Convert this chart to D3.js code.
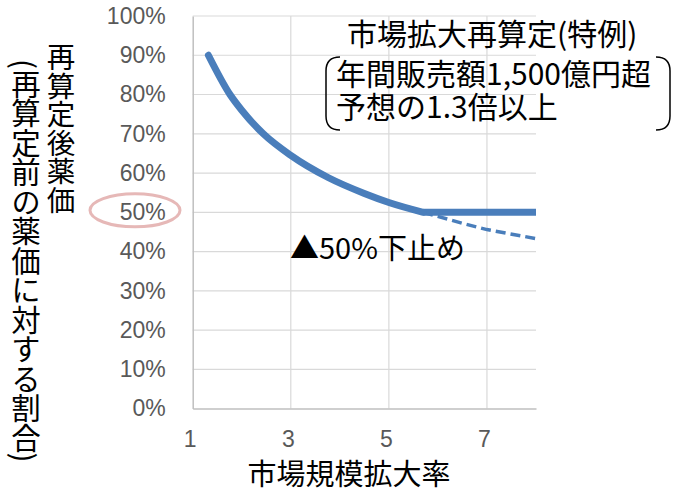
<!DOCTYPE html>
<html lang="ja">
<head>
<meta charset="utf-8">
<script src="https://cdn.jsdelivr.net/npm/d3@7"></script>
<style>
  html, body { margin: 0; padding: 0; background: #fff; }
  svg { display: block; font-family: "Noto Sans CJK JP", "Noto Sans", sans-serif; }
</style>
</head>
<body>
<svg id="chart" width="678" height="489"></svg>
<script>
// Repricing curve: price after repricing / price before, vs market expansion ratio
const curveX = [1.32, 1.76, 2.0, 2.44, 3.0, 3.77, 4.5, 5.0, 5.7];
const curveY = [0.90, 0.80, 0.76, 0.70, 0.645, 0.588, 0.548, 0.525, 0.50];

// 50% floor once the curve reaches it
const floorX = [5.7, 8];
const floorY = [0.50, 0.50];

// Where the curve would continue without the floor
const projX = [5.7, 6.5, 7, 8];
const projY = [0.50, 0.472, 0.456, 0.433];

const xTicks = [1, 3, 5, 7];
const yTicks = [0, 0.1, 0.2, 0.3, 0.4, 0.5, 0.6, 0.7, 0.8, 0.9, 1.0];

const titleLines = ["市場拡大再算定(特例)", "年間販売額1,500億円超", "予想の1.3倍以上"];
const floorNote = "▲50%下止め";
const xTitle = "市場規模拡大率";
const yTitleA = "再算定後薬価";
const yTitleB = "(再算定前の薬価に対する割合)";

const svg = d3.select("#chart");
const x = d3.scaleLinear().domain([1, 8]).range([192.7, 536]);
const y = d3.scaleLinear().domain([0, 1]).range([408.6, 16]);

const blue = "#4a7ebb";

// gridlines
svg.append("g").selectAll("line").data(yTicks.filter(d => d > 0)).join("line")
  .attr("x1", x(1)).attr("x2", x(8))
  .attr("y1", d => y(d)).attr("y2", d => y(d))
  .attr("stroke", "#d9d9d9").attr("stroke-width", 1.2);
svg.append("g").selectAll("line").data(xTicks.filter(d => d > 1)).join("line")
  .attr("x1", d => x(d)).attr("x2", d => x(d))
  .attr("y1", y(0)).attr("y2", y(1))
  .attr("stroke", "#d9d9d9").attr("stroke-width", 1.2);

// axes
const yAxis = d3.axisLeft(y).tickValues(yTicks).tickFormat(d3.format(".0%")).tickSize(0).tickPadding(27);
const gy = svg.append("g").attr("transform", `translate(${x(1)},0)`).call(yAxis);
gy.select(".domain").attr("stroke", "#bfbfbf").attr("stroke-width", 1.5);
gy.selectAll("text").attr("font-size", 23).attr("fill", "#595959").attr("font-family", null);

const xAxis = d3.axisBottom(x).tickValues(xTicks).tickFormat(d3.format("d")).tickSize(0).tickPadding(22);
const gx = svg.append("g").attr("transform", `translate(0,${y(0)})`).call(xAxis);
gx.select(".domain").attr("stroke", "#bfbfbf").attr("stroke-width", 1.5);
gx.selectAll("text").attr("font-size", 23).attr("fill", "#595959").attr("font-family", null)
  .attr("dx", -3);

// lines
const line = d3.line().x(d => x(d[0])).y(d => y(d[1]));
svg.append("path")
  .datum(d3.zip(projX, projY))
  .attr("d", line)
  .attr("fill", "none").attr("stroke", blue).attr("stroke-width", 3.5)
  .attr("stroke-dasharray", "10,5");
svg.append("path")
  .datum(d3.zip(floorX, floorY))
  .attr("d", line)
  .attr("fill", "none").attr("stroke", blue).attr("stroke-width", 7);
svg.append("path")
  .datum(d3.zip(curveX, curveY))
  .attr("d", line.curve(d3.curveMonotoneX))
  .attr("fill", "none").attr("stroke", blue).attr("stroke-width", 7)
  .attr("stroke-linecap", "round");

// highlight around the 50% tick label
svg.append("ellipse")
  .attr("cx", 135).attr("cy", y(0.5) - 2).attr("rx", 45).attr("ry", 16.5)
  .attr("fill", "none").attr("stroke", "#e6b8b7").attr("stroke-width", 3);

// floor note
svg.append("text").attr("x", 290).attr("y", 259)
  .attr("font-size", 29).attr("fill", "#000").text(floorNote);

// rule description with bracket pair
svg.append("text").attr("x", 347).attr("y", 45)
  .attr("font-size", 30).attr("fill", "#000").text(titleLines[0]);
svg.append("text").attr("x", 336).attr("y", 85)
  .attr("font-size", 30).attr("fill", "#000").text(titleLines[1]);
svg.append("text").attr("x", 336).attr("y", 118)
  .attr("font-size", 30).attr("fill", "#000").text(titleLines[2]);
svg.append("path")
  .attr("d", "M 340,57 Q 326,57 326,71 L 326,116 Q 326,130 340,130")
  .attr("fill", "none").attr("stroke", "#000").attr("stroke-width", 1.5);
svg.append("path")
  .attr("d", "M 656,57 Q 670,57 670,71 L 670,116 Q 670,130 656,130")
  .attr("fill", "none").attr("stroke", "#000").attr("stroke-width", 1.5);

// axis titles
svg.append("text").attr("x", 349).attr("y", 485)
  .attr("text-anchor", "middle").attr("font-size", 29).attr("fill", "#000").text(xTitle);
svg.append("text").attr("x", 61).attr("y", 43)
  .style("writing-mode", "vertical-rl")
  .attr("font-size", 28.5).attr("fill", "#000").text(yTitleA);
svg.append("text").attr("x", 26).attr("y", 59)
  .style("writing-mode", "vertical-rl")
  .attr("font-size", 29.5).attr("fill", "#000").text(yTitleB);
</script>
</body>
</html>
